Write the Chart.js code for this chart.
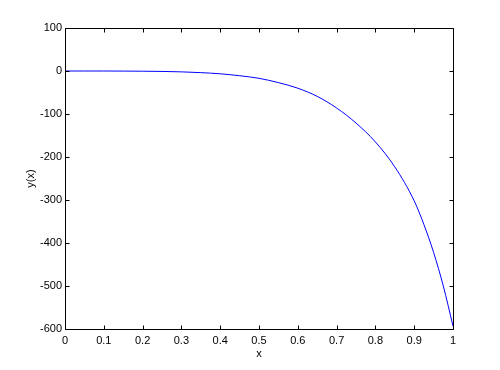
<!DOCTYPE html>
<html>
<head>
<meta charset="utf-8">
<script src="https://cdn.jsdelivr.net/npm/chart.js@4/dist/chart.umd.min.js"></script>
<style>
  html, body { margin: 0; padding: 0; background: #ffffff; }
  #wrap { width: 500px; height: 370px; position: relative; }
</style>
</head>
<body>
<div id="wrap"><canvas id="c" width="500" height="370"></canvas></div>
<script>
// Data
const xValues = [0, 0.05, 0.1, 0.15, 0.2, 0.25, 0.3, 0.35, 0.4, 0.45, 0.5, 0.55, 0.6, 0.65, 0.7, 0.75, 0.8, 0.85, 0.9, 0.925, 0.95, 0.975, 1.0];
const yValues = [0, 0, 0, -0.2, -0.5, -1, -2, -3.8, -6.5, -11, -17, -27, -40, -59, -86, -121, -165, -223, -302, -357, -422, -500, -593];
const xTicks = { min: 0, max: 1, step: 0.1 };
const yTicks = { min: -600, max: 100, step: 100 };
const xTitle = 'x';
const yTitle = 'y(x)';

const points = xValues.map((x, i) => ({ x: x, y: yValues[i] }));

const FONT = { family: "'Liberation Sans', Arial, sans-serif", size: 11 };

const boxTicks = {
  id: 'boxTicks',
  afterDraw(chart) {
    const ctx = chart.ctx;
    const a = chart.chartArea;
    const xs = chart.scales.x, ys = chart.scales.y;
    const L = 4;
    ctx.save();
    ctx.strokeStyle = '#000';
    ctx.lineWidth = 1;
    ctx.beginPath();
    const l = Math.round(a.left) + 0.5, r = Math.round(a.right) + 0.5;
    const t = Math.round(a.top) + 0.5, b = Math.round(a.bottom) + 0.5;
    ctx.rect(l, t, r - l, b - t);
    xs.ticks.forEach(tk => {
      const px = Math.round(xs.getPixelForValue(tk.value)) + 0.5;
      ctx.moveTo(px, b); ctx.lineTo(px, b - L);
      ctx.moveTo(px, t); ctx.lineTo(px, t + L);
    });
    ys.ticks.forEach(tk => {
      const py = Math.round(ys.getPixelForValue(tk.value)) + 0.5;
      ctx.moveTo(l, py); ctx.lineTo(l + L, py);
      ctx.moveTo(r, py); ctx.lineTo(r - L, py);
    });
    ctx.stroke();
    ctx.restore();
  }
};

new Chart(document.getElementById('c'), {
  type: 'line',
  data: {
    datasets: [{
      data: points,
      borderColor: 'rgb(0,0,255)',
      borderWidth: 1,
      pointRadius: 0,
      fill: false,
      cubicInterpolationMode: 'monotone'
    }]
  },
  options: {
    responsive: false,
    animation: false,
    devicePixelRatio: 1,
    layout: { padding: { left: 0, top: 28, right: 47, bottom: 0 } },
    plugins: { legend: { display: false }, tooltip: { enabled: false } },
    scales: {
      x: {
        type: 'linear',
        min: xTicks.min, max: xTicks.max,
        grid: { display: false, drawTicks: false },
        border: { display: false },
        ticks: {
          stepSize: xTicks.step,
          color: '#000',
          font: FONT,
          padding: 5,
          maxRotation: 0,
          autoSkip: false,
          callback: v => String(Math.round(v * 10) / 10)
        },
        title: { display: true, text: xTitle, color: '#000', font: FONT, padding: { top: 0, bottom: 9 } },
        afterFit: s => { s.height = 41; }
      },
      y: {
        type: 'linear',
        min: yTicks.min, max: yTicks.max,
        grid: { display: false, drawTicks: false },
        border: { display: false },
        ticks: {
          stepSize: yTicks.step,
          color: '#000',
          font: FONT,
          padding: 3,
          autoSkip: false
        },
        title: { display: true, text: yTitle, color: '#000', font: FONT, padding: { top: 24, bottom: 0 } },
        afterFit: s => { s.width = 65; }
      }
    }
  },
  plugins: [boxTicks]
});
</script>
</body>
</html>
